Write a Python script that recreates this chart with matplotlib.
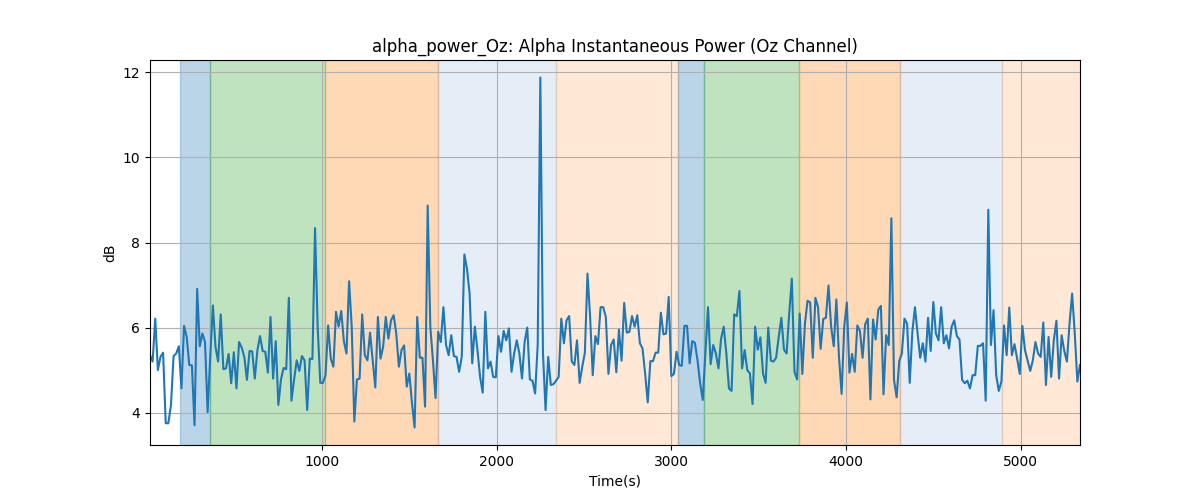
import numpy as np
import matplotlib
matplotlib.use("Agg")
import matplotlib.pyplot as plt

STEP_S = 15   # one sample every 15 s

# alpha power in Oz, dB (one value per 15 s)
power_db = [
    5.35, 5.20, 6.21, 5.00, 5.31, 5.41, 3.75, 3.75, 4.18, 5.33,
    5.39, 5.56, 4.57, 6.04, 5.78, 5.12, 5.11, 3.70, 6.91, 5.56,
    5.86, 5.66, 4.01, 5.31, 6.52, 5.55, 5.20, 6.31, 5.02, 5.04,
    5.38, 4.69, 5.42, 4.57, 5.66, 5.53, 5.31, 4.77, 5.45, 5.44,
    4.80, 5.47, 5.80, 5.45, 5.43, 4.94, 6.25, 4.80, 5.68, 4.18,
    4.78, 5.05, 5.02, 6.70, 4.28, 4.78, 5.23, 4.98, 5.33, 5.23,
    4.06, 5.27, 5.26, 8.34, 6.02, 4.70, 4.70, 4.88, 6.05, 5.27,
    5.08, 6.37, 6.02, 6.39, 5.68,
    5.39, 7.09, 6.02, 3.79, 4.78, 4.80, 6.31, 5.35, 5.23, 5.88,
    5.23, 4.59, 6.25, 5.27, 5.55, 6.25, 5.74, 6.17, 6.29, 5.86,
    5.08, 5.47, 5.58, 4.61, 4.92, 4.22, 3.65, 6.25, 5.29, 5.29,
    4.14, 8.87, 6.02, 5.23, 4.34, 5.90, 5.66, 6.48, 5.59, 5.35,
    5.82, 5.33, 5.31, 4.96, 5.31, 7.72, 7.38, 6.80, 5.16, 6.02,
    5.47, 4.84, 4.47, 6.37, 5.04, 5.20, 4.84, 4.83, 5.80, 5.43,
    5.92, 5.70, 5.98, 4.96, 5.39, 5.70, 5.39, 4.80, 5.66, 6.00,
    4.78, 4.75, 4.45,
    5.60, 11.88, 5.40, 4.06, 5.31, 4.65, 4.67, 4.75, 4.84, 6.21,
    5.63, 6.17, 6.27, 5.20, 5.12, 5.70, 4.70, 5.08, 5.41, 7.27,
    6.25, 4.88, 5.80, 5.61, 6.48, 6.48, 6.25, 4.91, 5.59, 5.72,
    4.95, 5.95, 5.22, 6.58, 5.88, 5.90, 6.27, 6.02, 6.29, 5.63,
    5.51, 4.92, 4.24, 5.21, 5.21, 5.41, 5.41, 6.35, 5.84, 5.86,
    6.72, 4.86, 4.91, 5.43, 5.12, 5.10, 6.04, 6.04, 5.16, 5.68,
    5.64, 5.23, 4.69, 4.30, 5.39, 6.48, 5.14, 5.59, 5.39, 5.04,
    5.74, 6.02,
    5.39, 4.57, 4.51, 6.31, 6.27, 6.86, 5.04, 5.47, 5.00, 4.92,
    4.20, 6.02, 5.48, 5.77, 4.92, 4.70, 6.00, 5.22, 5.20, 5.29,
    5.78, 6.23, 5.48, 5.39, 6.33, 7.15, 4.96, 4.78, 6.33, 4.91,
    6.09, 6.63, 6.59, 5.29, 6.70, 6.48, 5.50, 6.20, 6.23, 6.99,
    6.02, 5.56, 6.66, 5.31, 4.44, 6.02, 6.59, 4.94, 5.38, 4.96,
    6.05, 5.92, 5.29, 6.08, 6.21, 4.31, 6.19, 5.72, 6.42, 6.51,
    4.43, 5.82, 5.59, 8.57, 4.77, 4.36, 5.21, 5.39, 6.21, 6.09,
    4.70, 5.90, 6.48,
    5.86, 5.29, 5.63, 5.20, 6.23, 5.45, 6.60, 5.86, 5.70, 6.48,
    5.63, 5.82, 5.51, 6.02, 6.17, 5.80, 5.72, 4.77, 4.69, 4.75,
    4.57, 4.88, 4.88, 5.57, 5.57, 5.63, 4.28, 8.77, 5.59, 6.41,
    4.88, 4.51, 4.73, 6.05, 5.35, 6.47, 5.35, 5.61, 5.27, 4.91,
    6.04, 5.47, 5.23, 4.98, 5.23, 5.66, 5.39, 5.31, 6.12, 4.65,
    5.78, 4.84, 5.70, 6.16, 4.80, 5.82, 5.45, 5.20, 6.09, 6.80,
    5.86, 4.73, 5.12,
]

# task segments (start s, end s) and their shading
seg_start = [187, 359, 1017, 1664, 2340, 3039, 3188, 3733, 4312, 4896]
seg_end   = [359, 1017, 1664, 2340, 3039, 3188, 3733, 4312, 4896, 5400]
seg_color = ["C0", "C2", "C1", "#2f71c5", "C1", "C0", "C2", "C1", "#2f71c5", "C1"]
seg_alpha = [0.3, 0.3, 0.3, 0.12, 0.17, 0.3, 0.3, 0.3, 0.12, 0.17]

t = STEP_S * np.arange(1, len(power_db) + 1)

fig, ax = plt.subplots(figsize=(12, 5), dpi=100)
for a, b, c, al in zip(seg_start, seg_end, seg_color, seg_alpha):
    ax.axvspan(a, b, color=c, alpha=al)
ax.plot(t, power_db, color="C0", lw=1.5)
ax.set_xlim(t[0], t[-1])
ax.grid(True)
ax.set_title("alpha_power_Oz: Alpha Instantaneous Power (Oz Channel)")
ax.set_xlabel("Time(s)")
ax.set_ylabel("dB")
fig.savefig("out.png", dpi=100)
